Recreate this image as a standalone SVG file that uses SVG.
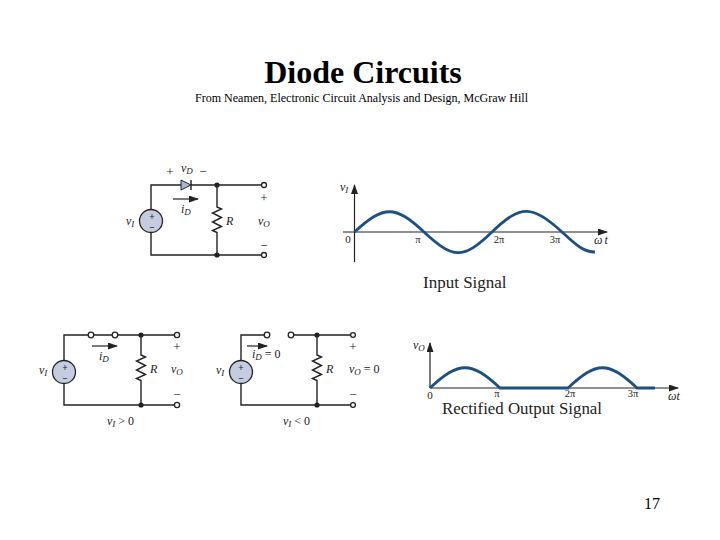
<svg xmlns="http://www.w3.org/2000/svg" width="720" height="540" viewBox="0 0 720 540">
<style>
text{font-family:"Liberation Serif","Times New Roman",serif;fill:#222}
.w{fill:none;stroke:#222;stroke-width:1.4}
.t{fill:#fff;stroke:#222;stroke-width:1.3}
.d{fill:#222}
.s{fill:#c6cce0;stroke:#222;stroke-width:1.3}
.l{font-size:12px;font-style:italic}
.n{font-size:13px;text-anchor:middle}
.m{font-size:9.5px;font-weight:bold;text-anchor:middle}
.g{fill:none;stroke:#1c5080;stroke-width:2.8}
.c{font-size:17px}
.p{font-size:10.5px;text-anchor:middle}
.a{fill:none;stroke:#222;stroke-width:1.2}
.b{font-size:9px}
</style>
<defs>
<marker id="ah" markerWidth="10" markerHeight="7" refX="9" refY="3.5" orient="auto" markerUnits="userSpaceOnUse"><path d="M0 0L10 3.500L0 7z" fill="#222"/></marker>
</defs>
<rect width="720" height="540" fill="#fff"/>
<text x="363" y="83" font-size="32" font-weight="bold" text-anchor="middle" style="fill:#000">Diode Circuits</text>
<text x="195" y="102" font-size="13.3" textLength="333" lengthAdjust="spacingAndGlyphs" style="fill:#000">From Neamen, Electronic Circuit Analysis and Design, McGraw Hill</text>
<text x="652" y="509" font-size="16" text-anchor="middle" style="fill:#000">17</text>

<g id="connectors">
<path class="w" d="M151 209V185H181M191 185H262M151 233V255H262M217 185V207l4.500 2-9 4 9 4.500-9 4.500 9 4.500-9 4 4.500 2V255"/>
<path class="a" d="M173 199H198" marker-end="url(#ah)"/>
<path class="w" d="M64 360V335H88M94 335H112M118 335H174M64 384V405H174M141 335V355l4.500 2-9 4 9 4.500-9 4.500 9 4.500-9 4 4.500 2V405"/>
<path class="a" d="M92 346H117" marker-end="url(#ah)"/>
<path class="w" d="M241 360V335H264M288 335H350M241 384V405H350M317 335V355l4.500 2-9 4 9 4.500-9 4.500 9 4.500-9 4 4.500 2V405"/>
<path class="a" d="M247 346H267" marker-end="url(#ah)"/>
</g>

<g id="diode"><path d="M181 180L191 185L181 190z" fill="#a9b6d4" stroke="#222"/><path d="M191 180V190" class="w"/></g>
<g id="circuit-a">
<circle class="s" cx="151" cy="221" r="11.500"/>
<text class="m" x="152" y="220">+</text><text class="m" x="152" y="231">−</text>
<circle class="d" cx="217" cy="185" r="2.600"/><circle class="d" cx="217" cy="255" r="2.600"/>
<circle class="t" cx="264" cy="185" r="2.500"/><circle class="t" cx="264" cy="255" r="2.500"/>
<text class="n" x="170" y="176">+</text>
<text class="l" x="181" y="172">v<tspan class="b" dy="2">D</tspan></text>
<text class="n" x="203" y="176">−</text>
<text class="l" x="181" y="213">i<tspan class="b" dy="2">D</tspan></text>
<text class="l" x="126" y="225">v<tspan class="b" dy="2">I</tspan></text>
<text class="l" x="226" y="225">R</text>
<text class="n" x="264" y="202">+</text>
<text class="l" x="258" y="225">v<tspan class="b" dy="2">O</tspan></text>
<text class="n" x="264" y="250">−</text>
</g>
<g id="circuit-b">
<circle class="s" cx="64" cy="372" r="11.500"/>
<text class="m" x="65" y="371">+</text><text class="m" x="65" y="382">−</text>
<circle class="t" cx="91" cy="335" r="2.800"/><circle class="t" cx="115" cy="335" r="2.800"/>
<circle class="d" cx="141" cy="335" r="2.600"/><circle class="d" cx="141" cy="405" r="2.600"/>
<circle class="t" cx="177" cy="335" r="2.600"/><circle class="t" cx="177" cy="405" r="2.600"/>
<text class="l" x="99" y="360">i<tspan class="b" dy="2">D</tspan></text>
<text class="l" x="39" y="374">v<tspan class="b" dy="2">I</tspan></text>
<text class="l" x="150" y="373">R</text>
<text class="n" x="177" y="351">+</text>
<text class="l" x="171" y="373">v<tspan class="b" dy="2">O</tspan></text>
<text class="n" x="177" y="399">−</text>
<text class="l" x="107" y="425">v<tspan class="b" dy="2">I</tspan><tspan dy="-2" font-style="normal"> &gt; 0</tspan></text>
</g>
<g id="circuit-c">
<circle class="s" cx="241" cy="372" r="11.500"/>
<text class="m" x="241" y="371">+</text><text class="m" x="241" y="382">−</text>
<circle class="t" cx="267" cy="335" r="2.800"/><circle class="t" cx="291" cy="335" r="2.800"/>
<circle class="d" cx="317" cy="335" r="2.600"/><circle class="d" cx="317" cy="405" r="2.600"/>
<circle class="t" cx="353" cy="335" r="2.400"/><circle class="t" cx="353" cy="405" r="2.400"/>
<text class="l" x="252" y="358">i<tspan class="b" dy="2">D</tspan><tspan dy="-2" font-style="normal"> = 0</tspan></text>
<text class="l" x="216" y="374">v<tspan class="b" dy="2">I</tspan></text>
<text class="l" x="326" y="373">R</text>
<text class="n" x="353" y="351">+</text>
<text class="l" x="349" y="373">v<tspan class="b" dy="2">O</tspan><tspan dy="-2" font-style="normal"> = 0</tspan></text>
<text class="n" x="353" y="399">−</text>
<text class="l" x="283" y="425">v<tspan class="b" dy="2">I</tspan><tspan dy="-2" font-style="normal"> &lt; 0</tspan></text>
</g>
<g id="input-graph">
<path class="a" d="M354.500 262V185" marker-end="url(#ah)"/>
<path class="a" d="M343 232H607" marker-end="url(#ah)"/>
<path class="g" d="M354.500 232C384 205 395 205 424 232S463 260 492 232 532 205 562 232C575 244 583 252 595 252"/>
<text class="l" x="340" y="191">v<tspan class="b" dy="2">I</tspan></text>
<text class="n" x="348" y="243" style="font-size:11px">0</text>
<text class="p" x="418" y="243">π</text>
<text class="p" x="499" y="243">2π</text>
<text class="p" x="555" y="243">3π</text>
<text class="l" x="594" y="244">ω<tspan dx="2">t</tspan></text>
<text class="c" x="423" y="288">Input Signal</text>
</g>
<g id="output-graph">
<path class="a" d="M430 388V343" marker-end="url(#ah)"/>
<path class="a" d="M430 388H678" marker-end="url(#ah)"/>
<path class="g" d="M430 388C459 361 471 361 500 388H568C597 361 608 361 637 388H655"/>
<text class="l" x="413" y="349">v<tspan class="b" dy="2">O</tspan></text>
<text class="n" x="430" y="399" style="font-size:11px">0</text>
<text class="p" x="497" y="397">π</text>
<text class="p" x="570" y="397">2π</text>
<text class="p" x="633" y="397">3π</text>
<text class="l" x="668" y="400">ωt</text>
<text class="c" x="442" y="414" textLength="160" lengthAdjust="spacingAndGlyphs">Rectified Output Signal</text>
</g>
</svg>
